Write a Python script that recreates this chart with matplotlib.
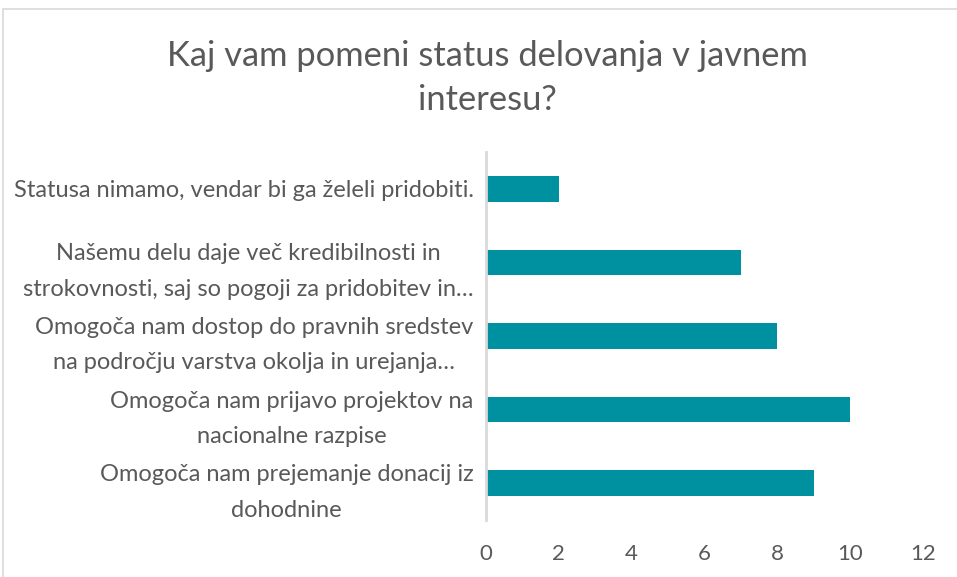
import matplotlib.pyplot as plt
from matplotlib.patches import Rectangle

# data (bottom to top, as drawn)
categories = [
    "Omogoča nam prejemanje donacij iz\ndohodnine",
    "Omogoča nam prijavo projektov na\nnacionalne razpise",
    "Omogoča nam dostop do pravnih sredstev\nna področju varstva okolja in urejanja…",
    "Našemu delu daje več kredibilnosti in\nstrokovnosti, saj so pogoji za pridobitev in…",
    "Statusa nimamo, vendar bi ga želeli pridobiti.",
]
values = [9, 10, 8, 7, 2]
x_ticks = [0, 2, 4, 6, 8, 10, 12]

bar_color = "#0091A0"
text_color = "#595959"
line_color = "#D9D9D9"

plt.rcParams['font.family'] = ['Lato', 'DejaVu Sans']

fig = plt.figure(figsize=(9.57, 5.77), dpi=100)
ax = fig.add_axes([486 / 957, 1 - 520 / 577, (923 - 486) / 957, (520 - 152) / 577])

ax.barh(range(len(values)), values, height=0.35, color=bar_color)
ax.set_xlim(0, 12)
ax.set_ylim(-0.5, len(values) - 0.5)
ax.set_xticks(x_ticks)
ax.set_yticks(range(len(categories)))
ax.set_yticklabels(categories, ha='right', multialignment='center', linespacing=1.85)
ax.tick_params(axis='y', length=0, pad=9, labelsize=17, labelcolor=text_color)
ax.tick_params(axis='x', length=0, pad=17, labelsize=16, labelcolor=text_color)

for side in ['top', 'right', 'bottom']:
    ax.spines[side].set_visible(False)
ax.spines['left'].set_color(line_color)
ax.spines['left'].set_linewidth(2)

fig.text(487 / 957, 1 - 78 / 577, "Kaj vam pomeni status delovanja v javnem\ninteresu?",
         ha='center', va='center', fontsize=24.8, color=text_color, linespacing=1.45)

# outer chart border (cropped at right and bottom)
fig.patches.append(Rectangle((3 / 957, -0.05), 1.2, 1 - 9 / 577 + 0.05, transform=fig.transFigure,
                             fill=False, edgecolor=line_color, linewidth=1.2))

fig.savefig("out.png", dpi=100)
